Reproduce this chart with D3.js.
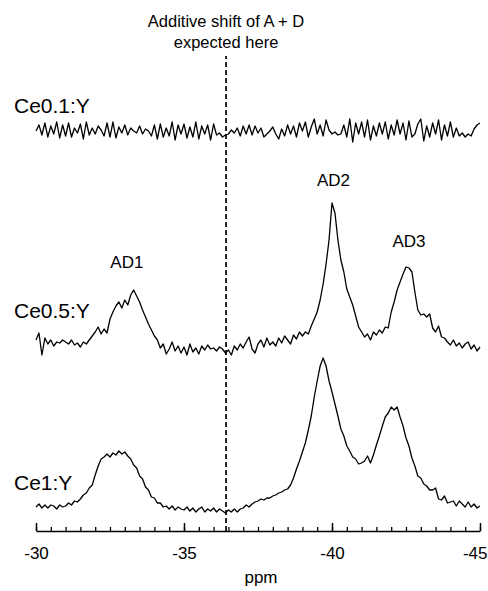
<!DOCTYPE html>
<html>
<head>
<meta charset="utf-8">
<script src="https://cdn.jsdelivr.net/npm/d3@7"></script>
<style>
  body { margin: 0; background: #fff; }
  svg { display: block; font-family: "Liberation Sans", Arial, sans-serif; }
  .trace { fill: none; stroke: #000; stroke-width: 1.3; stroke-linejoin: round; }
</style>
</head>
<body>
<svg id="chart" width="488" height="591"></svg>
<script>
// ppm grid: -30.0 .. -45.0, step 0.1 (151 points per trace)
const ppmStart = -30, ppmEnd = -45, ppmStep = 0.1;

// intensities (arbitrary units, 0 = trace baseline)
const ce01 = [
  0,6,-4,8,-6,5,-3,9,-7,6,
  -5,8,-6,3,-2,7,-8,9,-4,3,
  -3,5,1,-5,8,-6,9,-7,4,-2,
  6,-4,3,0,-2,5,-3,2,0,-5,
  6,-8,7,-6,3,-5,9,-9,6,-3,
  7,-7,4,-6,9,-8,5,-3,6,-9,
  7,-4,-2,-6,-4,-3,1,-2,3,-5,
  5,-3,6,-4,5,-2,3,-6,-3,0,
  4,-3,-8,2,-5,6,-3,5,-6,8,
  0,9,-6,4,12,-3,6,-5,11,1,
  -3,-1,-4,-3,6,-6,12,-11,8,-3,
  9,-6,11,-9,5,-5,8,-3,9,-8,
  6,-4,11,-3,8,-9,10,-6,-3,7,
  12,-10,5,-6,8,-3,11,-9,6,-5,
  9,-6,3,-5,-2,-6,-3,-5,2,6,
  8
];

const ce05 = [
  12,19,-3,14,8,12,6,10,9,12,
  10,8,12,7,9,5,10,8,12,16,
  20,25,18,23,19,33,40,46,50,44,
  52,47,57,62,56,50,42,35,28,22,
  16,12,4,8,-2,3,10,1,6,-1,
  5,-3,8,0,4,-2,6,2,7,3,
  4,1,5,3,-1,2,-3,6,2,8,
  4,10,15,3,-1,8,12,5,14,7,
  10,6,14,9,16,12,8,17,13,20,
  16,20,18,26,33,40,52,68,88,112,
  149,139,112,92,80,63,55,47,36,25,
  20,15,18,12,20,17,22,19,25,24,
  40,50,62,70,78,85,84,80,60,42,
  37,38,35,38,24,20,26,15,14,10,
  7,12,6,9,4,8,10,3,7,1,
  5
];

const ce1 = [
  6,9,5,8,5,8,7,4,8,6,
  7,10,8,12,11,14,18,20,25,28,
  38,47,54,56,59,56,60,58,62,59,
  61,57,54,48,45,37,34,26,23,16,
  15,10,10,6,7,4,7,3,6,4,
  3,6,2,5,1,4,6,1,4,2,
  5,1,4,2,0,3,1,4,1,4,
  5,8,6,9,11,12,14,13,15,15,
  17,18,20,21,23,24,28,35,44,52,
  61,70,83,97,116,132,147,155,147,132,
  121,109,97,84,77,67,62,56,54,49,
  50,52,57,50,58,68,77,87,96,100,
  106,103,106,96,87,75,67,55,47,37,
  35,29,27,23,23,25,14,13,17,10,
  11,12,7,12,9,6,11,6,9,5,
  7
];

// vertical stacking offsets of each trace
const seriesNames = ["Ce0.1:Y", "Ce0.5:Y", "Ce1:Y"];
const seriesValues = [ce01, ce05, ce1];
const seriesOffsets = [400, 179, 18];

const peakNames = ["AD1", "AD2", "AD3"];
const peakPpm = [-33.07, -40.05, -42.6];
const peakLevels = [263, 345, 284];

const additivePpm = -36.42;
const majorTicks = [-30, -35, -40, -45];

const svg = d3.select("#chart");

const x = d3.scaleLinear().domain([ppmStart, ppmEnd]).range([36, 480]);
const y = d3.scaleLinear().domain([0, 475]).range([531, 56]);

const line = d3.line()
  .x(d => x(d.ppm))
  .y(d => y(d.v));

seriesValues.forEach((vals, i) => {
  const pts = vals.map((v, j) => ({ ppm: ppmStart - j * ppmStep, v: v + seriesOffsets[i] }));
  svg.append("path").attr("class", "trace").attr("d", line(pts));
});

// dashed marker line
svg.append("line")
  .attr("x1", x(additivePpm)).attr("x2", x(additivePpm))
  .attr("y1", y(0)).attr("y2", y(475))
  .attr("stroke", "#000").attr("stroke-width", 1.7)
  .attr("stroke-dasharray", "5,3");

svg.append("text")
  .attr("x", x(additivePpm)).attr("y", 27)
  .attr("text-anchor", "middle").attr("font-size", 16.5)
  .text("Additive shift of A + D");
svg.append("text")
  .attr("x", x(additivePpm)).attr("y", 48)
  .attr("text-anchor", "middle").attr("font-size", 16.5)
  .text("expected here");

// trace labels
const labelY = [113, 318, 490];
seriesNames.forEach((n, i) => {
  svg.append("text")
    .attr("x", 14).attr("y", labelY[i])
    .attr("font-size", 21)
    .text(n);
});

// peak labels
peakNames.forEach((n, i) => {
  svg.append("text")
    .attr("x", x(peakPpm[i])).attr("y", y(peakLevels[i]))
    .attr("text-anchor", "middle").attr("font-size", 17)
    .text(n);
});

// minor ticks every 0.5 ppm
svg.append("g")
  .attr("transform", `translate(0,${y(0)})`)
  .call(d3.axisBottom(x).tickValues(d3.range(0, 31).map(k => -30 - k * 0.5))
    .tickSize(-4).tickFormat(""))
  .call(g => g.select(".domain").remove())
  .call(g => g.selectAll("line").attr("stroke-width", 1.3));

// major axis (plain hyphen minus, as in the original)
svg.append("g")
  .attr("transform", `translate(0,${y(0)})`)
  .call(d3.axisBottom(x).tickValues(majorTicks).tickSize(-8).tickSizeOuter(0)
    .tickPadding(16).tickFormat(d => String(d)))
  .call(g => g.select(".domain").attr("stroke-width", 1.5))
  .call(g => g.selectAll("line").attr("stroke-width", 1.5))
  .call(g => g.selectAll("text")
    .attr("font-size", 17).attr("font-family", "Liberation Sans, Arial, sans-serif").attr("fill", "#000"))
  .call(g => g.selectAll(".tick").filter(d => d === -45).select("text")
    .attr("text-anchor", "end").attr("dx", 7));

svg.append("text")
  .attr("x", 261).attr("y", 583)
  .attr("text-anchor", "middle").attr("font-size", 17)
  .text("ppm");
</script>
</body>
</html>
